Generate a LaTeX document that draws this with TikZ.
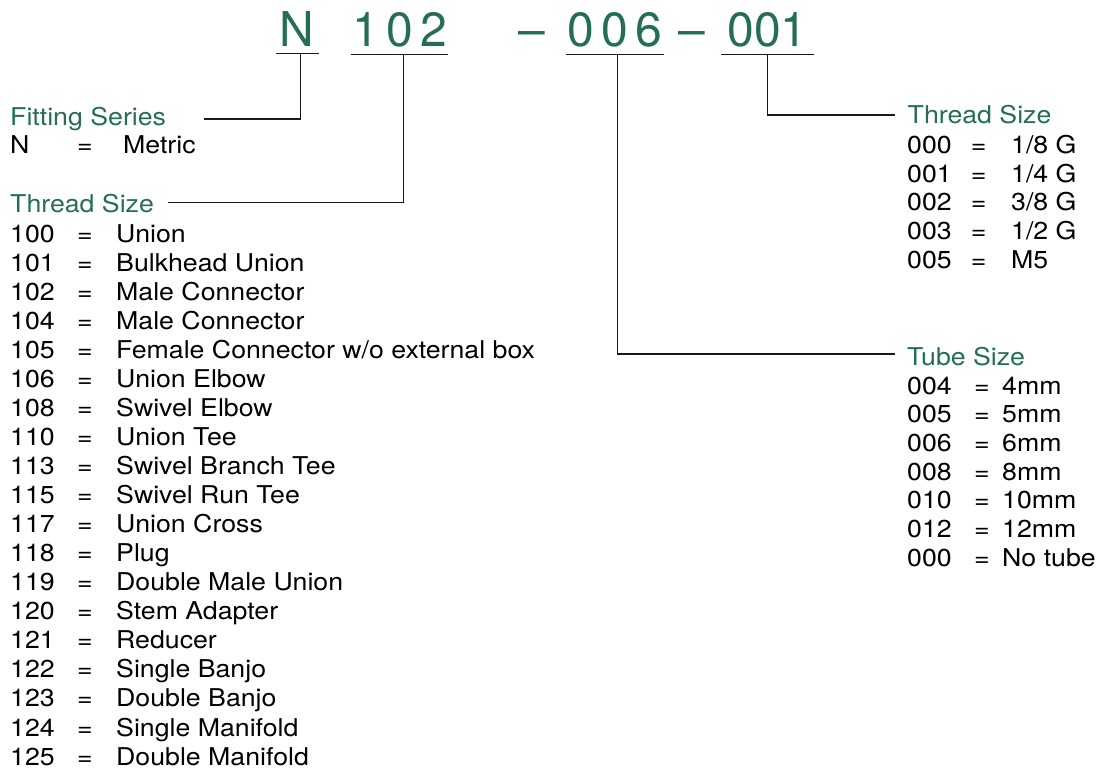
\documentclass[tikz,border=0pt]{standalone}
\usepackage{fontspec}
\setmainfont{TeX Gyre Heros}[FakeStretch=1.09]
\newfontfamily\partfont{TeX Gyre Heros}
\usetikzlibrary{positioning,calc}

\definecolor{codegreen}{RGB}{35,110,85}
\newcommand{\keyrow}[4]{\makebox[#1][l]{#3}\makebox[#2][l]{=}#4}

\begin{document}
\begin{tikzpicture}[x=1pt,y=-1pt,
    part/.style={anchor=base west, inner ysep=7pt, inner xsep=0pt, text=codegreen,
      font=\partfont\fontsize{48}{48}\selectfont},
    head/.style={anchor=base west, inner sep=0pt, text=codegreen},
    entry/.style={anchor=base west, inner sep=0pt},
    rule/.style={line width=1.1pt, draw=black!90}]
  \useasboundingbox (0,0) rectangle (1099,773);
  \fontsize{24.5}{29}\selectfont

  % part number
  \node[part, inner xsep=4pt] (tN) at (275.7,46.3) {N};
  \node[part, inner xsep=1pt] (t102) at (351.1,46.3) {1\hspace{7.4pt}0\hspace{7.4pt}2};
  \node[part] (tdashA) at (518.3,46.3) {\textendash};
  \node[part, inner xsep=1pt] (t006) at (566.3,46.3) {0\hspace{7.4pt}0\hspace{7.4pt}6};
  \node[part] (tdashB) at (678,46.3) {\textendash};
  \node[part, inner xsep=6.5pt] (t001) at (720.8,46.3) {001};

  \draw[rule] (tN.south west) -- (tN.south east);
  \draw[rule] (t102.south west) -- (t102.south east);
  \draw[rule] (t006.south west) -- (t006.south east);
  \draw[rule] (t001.south west) -- (t001.south east);

  % free ends of the leaders
  \coordinate (eFit) at (204,119);
  \coordinate (eThrL) at (168.3,202.7);
  \coordinate (eThrR) at (895,115);
  \coordinate (eTube) at (895,354);

  \draw[rule] ([xshift=3pt]tN.south) |- (eFit);
  \draw[rule] ([xshift=4pt]t102.south) |- (eThrL);
  \draw[rule] ([xshift=2.5pt]t006.south) |- (eTube);
  \draw[rule] (t001.south) |- (eThrR);

  % fitting series
  \node[head] (hFit) at (10,125) {Fitting Series};
  \node[entry] (rN) at (10,153.3) {\keyrow{67pt}{46pt}{N}{Metric}};

  % thread size (body)
  \node[head] (hThrL) at (10,212.7) {Thread Size};
  \node[entry] (r100) at (10,242.3) {\keyrow{67pt}{39pt}{100}{Union}};
  \node[entry] (r101) at (10,271.3) {\keyrow{67pt}{39pt}{101}{Bulkhead Union}};
  \node[entry] (r102) at (10,300.4) {\keyrow{67pt}{39pt}{102}{Male Connector}};
  \node[entry] (r104) at (10,329.4) {\keyrow{67pt}{39pt}{104}{Male Connector}};
  \node[entry] (r105) at (10,358.5) {\keyrow{67pt}{39pt}{105}{Female Connector w/o external box}};
  \node[entry] (r106) at (10,387.5) {\keyrow{67pt}{39pt}{106}{Union Elbow}};
  \node[entry] (r108) at (10,416.5) {\keyrow{67pt}{39pt}{108}{Swivel Elbow}};
  \node[entry] (r110) at (10,445.6) {\keyrow{67pt}{39pt}{110}{Union Tee}};
  \node[entry] (r113) at (10,474.6) {\keyrow{67pt}{39pt}{113}{Swivel Branch Tee}};
  \node[entry] (r115) at (10,503.7) {\keyrow{67pt}{39pt}{115}{Swivel Run Tee}};
  \node[entry] (r117) at (10,532.7) {\keyrow{67pt}{39pt}{117}{Union Cross}};
  \node[entry] (r118) at (10,561.7) {\keyrow{67pt}{39pt}{118}{Plug}};
  \node[entry] (r119) at (10,590.8) {\keyrow{67pt}{39pt}{119}{Double Male Union}};
  \node[entry] (r120) at (10,619.8) {\keyrow{67pt}{39pt}{120}{Stem Adapter}};
  \node[entry] (r121) at (10,648.9) {\keyrow{67pt}{39pt}{121}{Reducer}};
  \node[entry] (r122) at (10,677.9) {\keyrow{67pt}{39pt}{122}{Single Banjo}};
  \node[entry] (r123) at (10,706.9) {\keyrow{67pt}{39pt}{123}{Double Banjo}};
  \node[entry] (r124) at (10,736.0) {\keyrow{67pt}{39pt}{124}{Single Manifold}};
  \node[entry] (r125) at (10,765.0) {\keyrow{67pt}{39pt}{125}{Double Manifold}};

  % thread size (port)
  \node[head] (hThrR) at (907.5,123.3) {Thread Size};
  \node[entry] (p000) at (907,153.3) {\keyrow{63.7pt}{40.3pt}{000}{1/8 G}};
  \node[entry] (p001) at (907,182.1) {\keyrow{63.7pt}{40.3pt}{001}{1/4 G}};
  \node[entry] (p002) at (907,210.8) {\keyrow{63.7pt}{40.3pt}{002}{3/8 G}};
  \node[entry] (p003) at (907,239.6) {\keyrow{63.7pt}{40.3pt}{003}{1/2 G}};
  \node[entry] (p005) at (907,268.3) {\keyrow{63.7pt}{40.3pt}{005}{M5}};

  % tube size
  \node[head] (hTube) at (907,365) {Tube Size};
  \node[entry] (s004) at (907,394.0) {\keyrow{67pt}{28pt}{004}{4mm}};
  \node[entry] (s005) at (907,422.7) {\keyrow{67pt}{28pt}{005}{5mm}};
  \node[entry] (s006) at (907,451.3) {\keyrow{67pt}{28pt}{006}{6mm}};
  \node[entry] (s008) at (907,480.0) {\keyrow{67pt}{28pt}{008}{8mm}};
  \node[entry] (s010) at (907,508.7) {\keyrow{67pt}{28pt}{010}{10mm}};
  \node[entry] (s012) at (907,537.3) {\keyrow{67pt}{28pt}{012}{12mm}};
  \node[entry] (s000) at (907,566.0) {\keyrow{67pt}{28pt}{000}{No tube}};
\end{tikzpicture}
\end{document}
